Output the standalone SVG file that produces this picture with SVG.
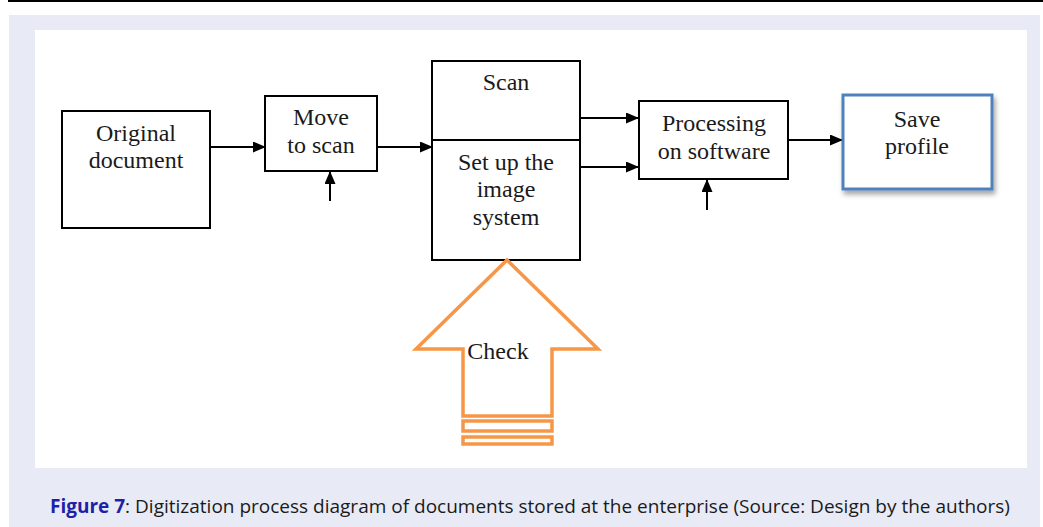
<svg xmlns="http://www.w3.org/2000/svg" width="1043" height="527" viewBox="0 0 1043 527">
  <style>
    .box { fill: #ffffff; stroke: #000000; stroke-width: 2; }
    .lbl { font-family: "Liberation Serif", "Times New Roman", serif; font-size: 24px; fill: #1a1a1a; text-anchor: middle; }
    .wire { stroke: #000000; stroke-width: 2; fill: none; }
    .check { fill: #ffffff; stroke: #F79646; stroke-width: 3.5; stroke-linejoin: miter; }
  </style>
  <defs>
    <marker id="head" markerWidth="13" markerHeight="11" refX="12" refY="5.5" orient="auto" markerUnits="userSpaceOnUse">
      <path d="M0,0 L13,5.5 L0,11 Z" fill="#000000"/>
    </marker>
    <filter id="shadow" x="-20%" y="-20%" width="150%" height="150%">
      <feDropShadow dx="2" dy="4" stdDeviation="2.5" flood-color="#000000" flood-opacity="0.35"/>
    </filter>
  </defs>

  <!-- page frame -->
  <rect x="0" y="0" width="1043" height="527" fill="#ffffff"/>
  <line x1="8" y1="1" x2="1043" y2="1" stroke="#000000" stroke-width="2"/>
  <rect x="9" y="15" width="1031" height="512" fill="#E8EBF6"/>
  <rect x="35" y="30" width="992" height="438" fill="#ffffff"/>

  <!-- connectors -->
  <g id="connectors">
    <line class="wire" x1="210" y1="147" x2="265" y2="147" marker-end="url(#head)"/>
    <line class="wire" x1="330" y1="201" x2="330" y2="172" marker-end="url(#head)"/>
    <line class="wire" x1="377" y1="147" x2="432" y2="147" marker-end="url(#head)"/>
    <line class="wire" x1="581" y1="118" x2="638" y2="118" marker-end="url(#head)"/>
    <line class="wire" x1="581" y1="167" x2="638" y2="167" marker-end="url(#head)"/>
    <line class="wire" x1="707" y1="210" x2="707" y2="180" marker-end="url(#head)"/>
    <line class="wire" x1="789" y1="140" x2="842" y2="140" marker-end="url(#head)"/>
  </g>

  <g id="original-document">
    <rect class="box" x="62" y="111" width="148" height="117"/>
    <text class="lbl" x="136" y="141">Original</text>
    <text class="lbl" x="136" y="168">document</text>
  </g>

  <g id="move-to-scan">
    <rect class="box" x="265" y="96" width="112" height="75"/>
    <text class="lbl" x="321" y="125">Move</text>
    <text class="lbl" x="321" y="153">to scan</text>
  </g>

  <g id="scan-setup">
    <rect class="box" x="432" y="61" width="148" height="199"/>
    <line x1="432" y1="140" x2="580" y2="140" stroke="#000000" stroke-width="2"/>
    <text class="lbl" x="506" y="90">Scan</text>
    <text class="lbl" x="506" y="170">Set up the</text>
    <text class="lbl" x="506" y="197">image</text>
    <text class="lbl" x="506" y="225">system</text>
  </g>

  <g id="processing">
    <rect class="box" x="639" y="101" width="149" height="78"/>
    <text class="lbl" x="714" y="131">Processing</text>
    <text class="lbl" x="714" y="159">on software</text>
  </g>

  <g id="save-profile">
    <rect x="843" y="95" width="149" height="94" fill="#ffffff" stroke="#4F81BD" stroke-width="3" filter="url(#shadow)"/>
    <text class="lbl" x="917" y="127">Save</text>
    <text class="lbl" x="917" y="154">profile</text>
  </g>

  <g id="check">
    <path class="check" d="M507,260 L598,349 L552,349 L552,416 L463,416 L463,349 L416,349 Z"/>
    <rect class="check" x="463" y="421" width="89" height="10"/>
    <rect class="check" x="463" y="437" width="89" height="7"/>
    <text class="lbl" x="498" y="359">Check</text>
  </g>

  <!-- caption -->
  <text x="50" y="513" font-family="'Open Sans', 'Noto Sans', sans-serif" font-size="19" fill="#1a1a1a" textLength="960" lengthAdjust="spacingAndGlyphs"><tspan font-weight="bold" fill="#1F1FA8">Figure 7</tspan>: Digitization process diagram of documents stored at the enterprise (Source: Design by the authors)</text>
</svg>
